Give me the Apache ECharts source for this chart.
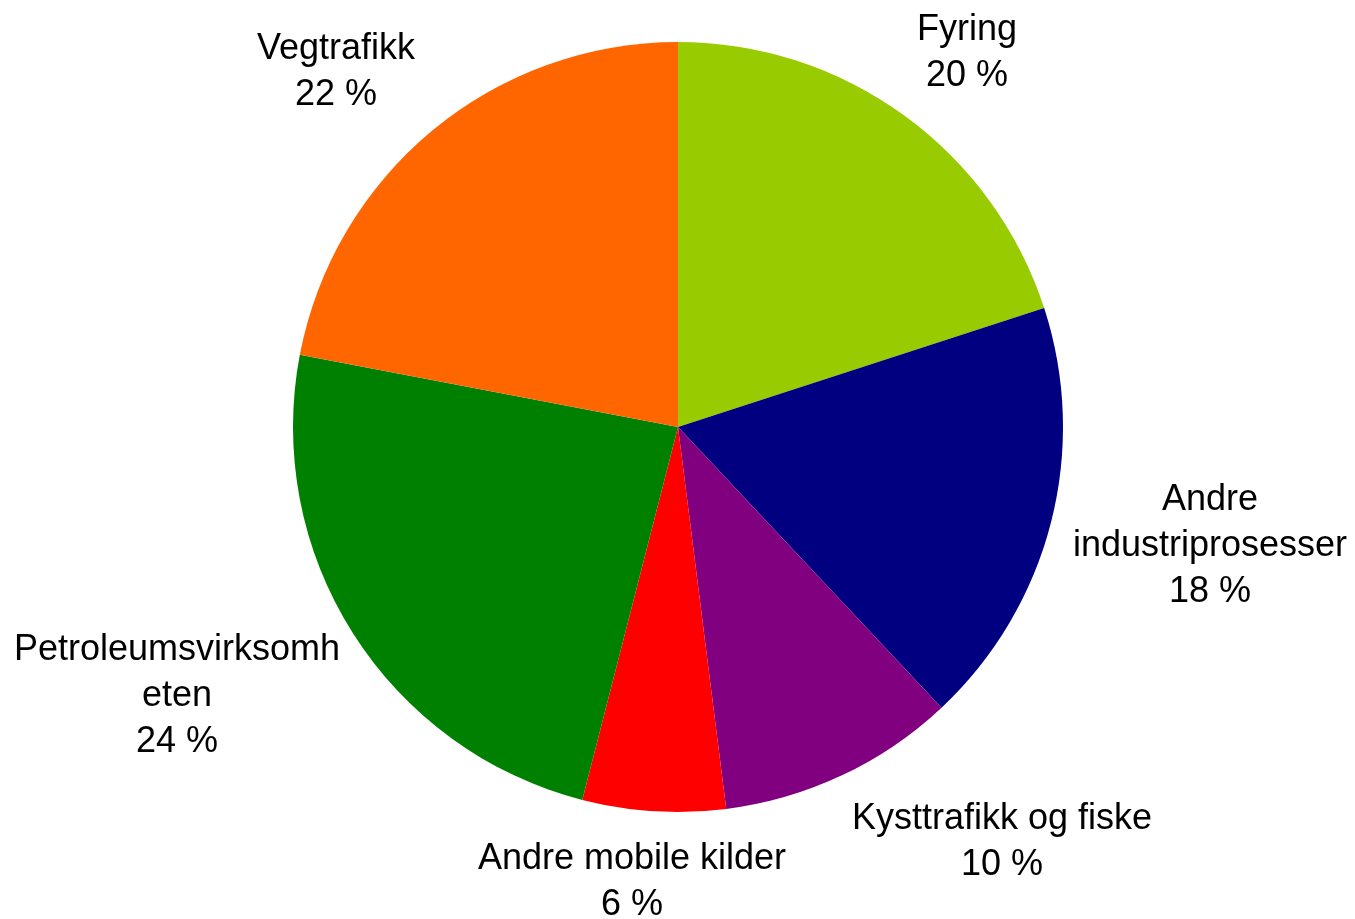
<!DOCTYPE html>
<html>
	<head>
		<meta charset="utf-8">
		<title>Utslipp fordelt på kilde</title>
		<script src="https://cdn.jsdelivr.net/npm/echarts@6/dist/echarts.min.js"></script>
		<style>
			html, body { margin: 0; padding: 0; background: #fff; }
			#PieMain { width: 1355px; height: 919px; }
		</style>
	</head>
	<body>
		<div id="PieMain"></div>
		<script>
			// kilder, med linjeskift slik de står i figuren
			var categories = ['Fyring', 'Andre\nindustriprosesser', 'Kysttrafikk og fiske', 'Andre mobile kilder', 'Petroleumsvirksomh\neten', 'Vegtrafikk'];
			var shares = [20, 18, 10, 6, 24, 22];
			var colors = ['#99CC00', '#000080', '#800080', '#FF0000', '#008000', '#FF6600'];

			var cx = 678, cy = 427;
			// etikettenes midtpunkt, relativt til sentrum av kaka
			var labelOffset = [[289, -374], [532, 119], [324, 415], [-46, 455], [-501, 269], [-342, -355]];

			var PieChart = echarts.init(document.getElementById('PieMain'));
			var PieOption = {
				animation: false,
				series: [{
					type: 'pie',
					center: [cx, cy],
					radius: 385,
					startAngle: 90,
					clockwise: true,
					data: categories.map(function (c, i) {
						return { name: c, value: shares[i], itemStyle: { color: colors[i] } };
					}),
					label: {
						show: true,
						position: 'outside',
						alignTo: 'none',
						overflow: 'none',
						formatter: '{b}\n{c} %',
						fontFamily: 'Liberation Sans, Arial, sans-serif',
						fontSize: 36,
						lineHeight: 46,
						color: '#000'
					},
					labelLine: { show: false },
					labelLayout: function (p) {
						var o = labelOffset[p.dataIndex];
						return { x: cx + o[0], y: cy + o[1], align: 'center', verticalAlign: 'middle' };
					},
					emphasis: { disabled: true }
				}]
			};
			PieChart.setOption(PieOption);
		</script>
	</body>
</html>
